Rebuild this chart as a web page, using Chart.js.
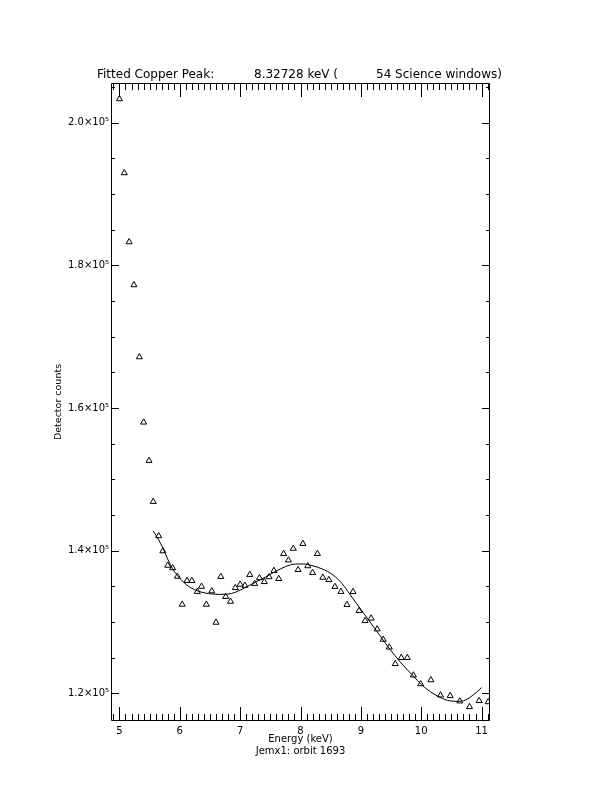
<!DOCTYPE html>
<html>
<head>
<meta charset="utf-8">
<script src="https://cdn.jsdelivr.net/npm/chart.js@4.4.0/dist/chart.umd.min.js"></script>
<style>
  html, body { margin: 0; padding: 0; background: #fff; }
  #chart { display: block; }
</style>
</head>
<body>
<canvas id="chart" width="612" height="792"></canvas>
<script>
// measured points (keV, detector counts)
const energy = [
  5.00, 5.08, 5.16, 5.24, 5.33, 5.40, 5.49, 5.56, 5.65, 5.72, 5.80, 5.88, 5.96,
  6.04, 6.12, 6.20, 6.29, 6.36, 6.44, 6.53, 6.60, 6.68, 6.76, 6.84, 6.92,
  7.00, 7.08, 7.16, 7.24, 7.32, 7.40, 7.48, 7.56, 7.64, 7.72, 7.80, 7.88, 7.96,
  8.04, 8.12, 8.20, 8.28, 8.37, 8.47, 8.57, 8.67, 8.77, 8.87, 8.97,
  9.07, 9.17, 9.27, 9.37, 9.47, 9.57, 9.67, 9.77, 9.87, 9.99,
  10.16, 10.32, 10.48, 10.64, 10.80, 10.96, 11.11
];
const counts = [
  203340, 192960, 183280, 177250, 167150, 157990, 152610, 146860, 142050, 139940, 137910, 137560, 136370,
  132440, 135780, 135780, 134240, 134960, 132440, 134330, 129920, 136340, 133530, 132860, 134780,
  135250, 135100, 136620, 135360, 136160, 135620, 136300, 137180, 136050, 139560, 138650, 140290, 137310,
  140970, 137840, 136900, 139560, 136230, 135900, 134940, 134240, 132410, 134220, 131560,
  130150, 130500, 128980, 127530, 126450, 124120, 124970, 124970, 122510, 121290,
  121850, 119720, 119630, 118880, 118090, 118930, 118770
];

// fitted curve
const fitEnergy = [
  5.56, 5.65, 5.72, 5.80, 5.88, 5.96, 6.04, 6.12, 6.20, 6.29, 6.42, 6.53, 6.67, 6.80, 6.92,
  7.08, 7.25, 7.42, 7.58, 7.75, 7.92, 8.05, 8.19, 8.36, 8.54, 8.69, 8.82, 8.97,
  9.07, 9.17, 9.27, 9.37, 9.47, 9.65, 9.87, 10.00, 10.15, 10.31, 10.48, 10.64, 10.76, 10.86, 10.96, 11.00
];
const fitCounts = [
  142750, 141500, 140350, 138800, 137450, 136500, 135750, 135150, 134700, 134360, 134050, 133920, 133860, 133900, 134150,
  134800, 135550, 136300, 137050, 137750, 138120, 138120, 137900, 137420, 136580, 135350, 133850, 132100,
  130950, 129780, 128620, 127450, 126300, 124400, 122400, 121250, 120210, 119420, 118910, 118860, 119140, 119750, 120450, 120800
];

const xTicks = [5, 6, 7, 8, 9, 10, 11];
const yTicks = [120000, 140000, 160000, 180000, 200000];
const titleParts = ['Fitted Copper Peak:', '8.32728 keV (', '54 Science windows)'];

const points = energy.map((e, i) => ({x: e, y: counts[i]}));
const fitLine = fitEnergy.map((e, i) => ({x: e, y: fitCounts[i]}));

// box with inward ticks on all four sides, plus the header line
const frame = {
  id: 'frame',
  afterDraw(chart) {
    const {ctx, chartArea: a, scales: {x, y}} = chart;
    ctx.save();
    ctx.strokeStyle = '#000';
    ctx.lineWidth = 1;
    ctx.beginPath();
    ctx.rect(a.left + 0.5, a.top + 0.5, a.right - a.left - 1, a.bottom - a.top - 1);

    for (let i = 49; i <= 111; i++) {
      const px = Math.round(x.getPixelForValue(i / 10)) + 0.5;
      const len = i % 10 === 0 ? 14 : 7;
      ctx.moveTo(px, a.bottom);
      ctx.lineTo(px, a.bottom - len);
      ctx.moveTo(px, a.top);
      ctx.lineTo(px, a.top + len);
    }
    for (let v = 120000; v <= 205000; v += 5000) {
      const py = Math.round(y.getPixelForValue(v)) + 0.5;
      const len = v % 20000 === 0 ? 8 : 4;
      ctx.moveTo(a.left, py);
      ctx.lineTo(a.left + len, py);
      ctx.moveTo(a.right, py);
      ctx.lineTo(a.right - len, py);
    }
    ctx.stroke();

    ctx.fillStyle = '#000';
    ctx.font = '12px "DejaVu Sans"';
    ctx.textBaseline = 'alphabetic';
    ctx.fillText(titleParts[0], 97, 78);
    ctx.fillText(titleParts[1], 254, 78);
    ctx.fillText(titleParts[2], 376, 78);
    ctx.restore();
  }
};

new Chart(document.getElementById('chart'), {
  type: 'scatter',
  data: {
    datasets: [
      {
        label: 'Counts',
        data: points,
        pointStyle: 'triangle',
        pointRadius: 3.5,
        pointBorderWidth: 1,
        borderColor: '#000',
        backgroundColor: 'rgba(0,0,0,0)'
      },
      {
        label: 'Fit',
        data: fitLine,
        showLine: true,
        borderColor: '#000',
        borderWidth: 1,
        pointRadius: 0,
        cubicInterpolationMode: 'monotone'
      }
    ]
  },
  options: {
    responsive: false,
    animation: false,
    events: [],
    layout: { padding: { top: 83, right: 122, bottom: 0, left: 0 } },
    plugins: {
      legend: { display: false },
      tooltip: { enabled: false }
    },
    scales: {
      x: {
        type: 'linear',
        min: 4.86,
        max: 11.14,
        grid: { display: false, drawTicks: false },
        border: { display: false },
        afterBuildTicks: s => { s.ticks = xTicks.map(v => ({value: v})); },
        afterFit: s => { s.height = 71; },
        ticks: {
          color: '#000',
          font: { family: 'DejaVu Sans', size: 10 },
          padding: 4,
          maxRotation: 0,
          autoSkip: false,
          callback: v => String(v)
        },
        title: {
          display: true,
          text: ['Energy (keV)', 'Jemx1: orbit 1693'],
          color: '#000',
          font: { family: 'DejaVu Sans', size: 10, lineHeight: 1.2 },
          padding: { top: 0, bottom: 35 }
        }
      },
      y: {
        type: 'linear',
        min: 116100,
        max: 205580,
        grid: { display: false, drawTicks: false },
        border: { display: false },
        afterBuildTicks: s => { s.ticks = yTicks.map(v => ({value: v})); },
        afterFit: s => { s.width = 111; },
        ticks: {
          color: '#000',
          font: { family: 'DejaVu Sans', size: 10 },
          padding: 2,
          autoSkip: false,
          callback: v => (v / 1e5).toFixed(1) + '×10⁵'
        },
        title: {
          display: true,
          text: 'Detector counts',
          color: '#000',
          font: { family: 'DejaVu Sans', size: 9.5, lineHeight: 1.2 },
          padding: { top: 53, bottom: 0 }
        }
      }
    }
  },
  plugins: [frame]
});
</script>
</body>
</html>
